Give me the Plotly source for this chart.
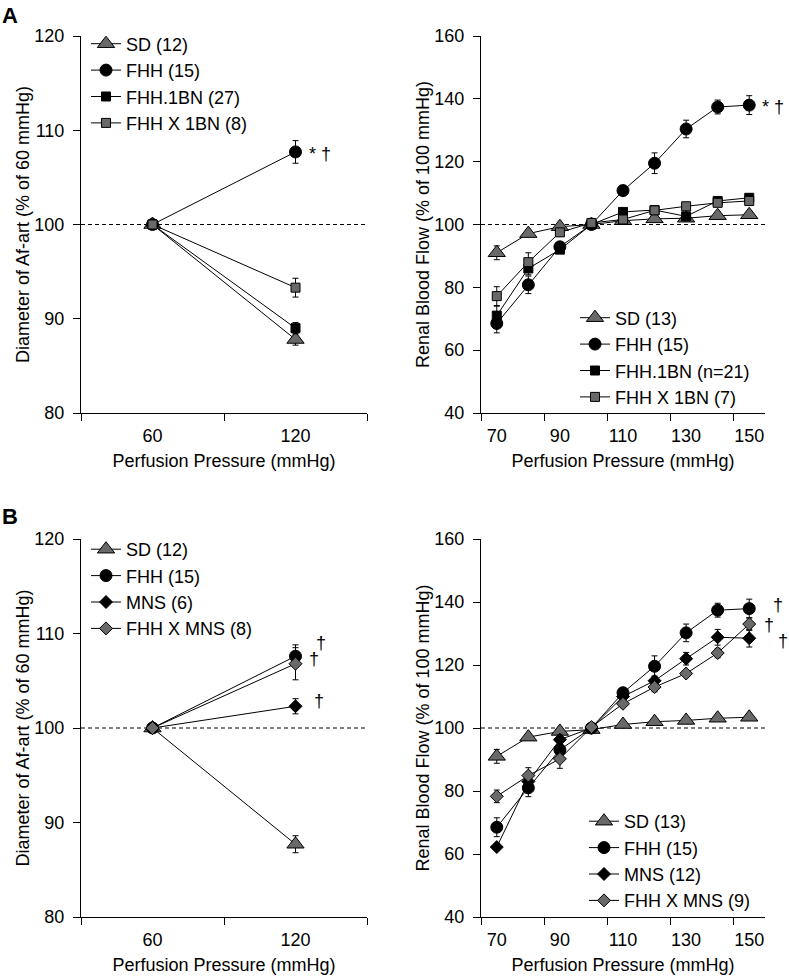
import plotly.graph_objects as go

W, H = 789, 976
FONT = "Liberation Sans, Arial, Helvetica, sans-serif"
GRAY = "#696969"

# ---------------- data ----------------
left_pressure = [60, 120]
left_ticks = [60, 120]
right_pressure = [70, 80, 90, 100, 110, 120, 130, 140, 150]
right_ticks = [70, 90, 110, 130, 150]

# Panel A, left (afferent arteriole diameter)
a_sd = [100, 87.8];   a_sd_err = [0, 0.6]
a_fhh = [100, 107.7]; a_fhh_err = [0, 1.2]
a_1bn = [100, 89.0];  a_1bn_err = [0, 0.6]
a_x1bn = [100, 93.3]; a_x1bn_err = [0, 1.0]

# Panel A, right (renal blood flow)
ar_sd = [91.0, 97.1, 99.3, 100.0, 101.2, 101.8, 102.0, 102.8, 103.1]
ar_sd_err = [2.2, 1.0, 0.8, 0.3, 0.5, 0.8, 0.8, 0.8, 0.8]
ar_fhh = [68.5, 80.8, 92.9, 100.0, 110.8, 119.5, 130.4, 137.4, 138.0]
ar_fhh_err = [3.0, 2.8, 1.2, 0.3, 1.6, 3.3, 2.8, 2.2, 3.0]
ar_1bn = [71.0, 86.0, 92.0, 100.0, 104.0, 104.6, 102.6, 107.5, 108.5]
ar_1bn_err = [3.0, 2.0, 1.0, 0.3, 1.0, 1.0, 1.2, 1.2, 1.2]
ar_x1bn = [77.2, 88.0, 97.5, 100.5, 101.6, 104.5, 105.8, 106.9, 107.5]
ar_x1bn_err = [3.0, 3.0, 1.2, 0.3, 1.0, 1.0, 1.0, 1.0, 1.0]

# Panel B, left
b_sd = [100, 87.7];   b_sd_err = [0, 0.9]
b_fhh = [100, 107.6]; b_fhh_err = [0, 1.2]
b_mns = [100, 102.3]; b_mns_err = [0, 0.8]
b_fxm = [100, 106.8]; b_fxm_err = [0, 1.7]

# Panel B, right
br_sd = [91.0, 97.1, 98.9, 99.5, 101.1, 102.0, 102.4, 103.1, 103.4]
br_sd_err = [2.2, 1.0, 0.8, 0.3, 0.5, 0.8, 0.8, 0.8, 0.8]
br_fhh = [68.5, 81.0, 93.1, 100.0, 111.2, 119.6, 130.2, 137.4, 137.9]
br_fhh_err = [3.0, 2.8, 1.2, 0.3, 1.6, 3.3, 2.8, 2.2, 3.0]
br_mns = [62.2, 83.0, 96.3, 100.0, 110.0, 115.0, 122.0, 128.8, 128.5]
br_mns_err = [1.0, 2.0, 1.5, 0.3, 1.0, 1.5, 2.0, 2.5, 2.8]
br_fxm = [78.3, 84.9, 90.2, 100.3, 107.7, 113.0, 117.3, 123.8, 133.0]
br_fxm_err = [2.0, 2.5, 3.0, 0.3, 1.0, 1.5, 1.0, 1.5, 2.0]

# ---------------- styles ----------------
STY = {
    "SD": dict(symbol="triangle-up", size=15, color=GRAY),
    "FHH": dict(symbol="circle", size=12, color="black"),
    "1BN": dict(symbol="square", size=9, color="black"),
    "X1BN": dict(symbol="square", size=9, color=GRAY),
    "MNS": dict(symbol="diamond", size=10, color="black"),
    "FXM": dict(symbol="diamond", size=10, color=GRAY),
}

fig = go.Figure()


def add(x, y, err, name, key, xa, ya, legend):
    s = STY[key]
    fig.add_trace(go.Scatter(
        x=x, y=y, name=name, mode="lines+markers",
        xaxis=xa, yaxis=ya, legend=legend,
        line=dict(color="black", width=1),
        marker=dict(symbol=s["symbol"], size=s["size"], color=s["color"],
                    line=dict(color="black", width=1)),
        error_y=dict(type="data", array=err, visible=True, color="black",
                     thickness=1, width=3),
    ))


add(left_pressure, a_sd, a_sd_err, "SD (12)", "SD", "x", "y", "legend")
add(left_pressure, a_fhh, a_fhh_err, "FHH (15)", "FHH", "x", "y", "legend")
add(left_pressure, a_1bn, a_1bn_err, "FHH.1BN (27)", "1BN", "x", "y", "legend")
add(left_pressure, a_x1bn, a_x1bn_err, "FHH X 1BN (8)", "X1BN", "x", "y", "legend")

add(right_pressure, ar_sd, ar_sd_err, "SD (13)", "SD", "x2", "y2", "legend2")
add(right_pressure, ar_fhh, ar_fhh_err, "FHH (15)", "FHH", "x2", "y2", "legend2")
add(right_pressure, ar_1bn, ar_1bn_err, "FHH.1BN (n=21)", "1BN", "x2", "y2", "legend2")
add(right_pressure, ar_x1bn, ar_x1bn_err, "FHH X 1BN (7)", "X1BN", "x2", "y2", "legend2")

add(left_pressure, b_sd, b_sd_err, "SD (12)", "SD", "x3", "y3", "legend3")
add(left_pressure, b_fhh, b_fhh_err, "FHH (15)", "FHH", "x3", "y3", "legend3")
add(left_pressure, b_mns, b_mns_err, "MNS (6)", "MNS", "x3", "y3", "legend3")
add(left_pressure, b_fxm, b_fxm_err, "FHH X MNS (8)", "FXM", "x3", "y3", "legend3")

add(right_pressure, br_sd, br_sd_err, "SD (13)", "SD", "x4", "y4", "legend4")
add(right_pressure, br_fhh, br_fhh_err, "FHH (15)", "FHH", "x4", "y4", "legend4")
add(right_pressure, br_mns, br_mns_err, "MNS (12)", "MNS", "x4", "y4", "legend4")
add(right_pressure, br_fxm, br_fxm_err, "FHH X MNS (9)", "FXM", "x4", "y4", "legend4")

# ---------------- layout ----------------
def px_x(p):
    return p / W


def px_y(p):
    return 1 - p / H


XL = [px_x(81), px_x(367)]
XR = [px_x(481), px_x(765)]
YA = [px_y(413), px_y(36)]
YB = [px_y(917), px_y(539)]

FS = 18
tickfont = dict(family=FONT, size=FS, color="black")
common_x = dict(showline=True, linecolor="black", linewidth=1, ticks="",
                showgrid=False, zeroline=False, tickfont=tickfont, automargin=False,
                ticklabelstandoff=6,
                title=dict(text="Perfusion Pressure (mmHg)", font=tickfont, standoff=9))
common_y = dict(showline=True, linecolor="black", linewidth=1, ticks="outside",
                ticklen=7, tickcolor="black", showgrid=False, zeroline=False,
                tickfont=tickfont, ticklabelstandoff=5, automargin=False)


def xleft(anchor, domain):
    d = dict(common_x)
    d.update(domain=domain, anchor=anchor, range=[30, 150], tickmode="array",
             tickvals=left_ticks,
             minor=dict(tickvals=[30, 90, 150], ticks="outside", ticklen=7,
                        tickcolor="black", showgrid=False))
    return d


def xright(anchor, domain):
    d = dict(common_x)
    d.update(domain=domain, anchor=anchor, range=[65, 155], tickmode="array",
             tickvals=right_ticks,
             minor=dict(tickvals=[65, 85, 105, 125, 145], ticks="outside", ticklen=7,
                        tickcolor="black", showgrid=False))
    return d


def yleft(anchor, domain):
    d = dict(common_y)
    d.update(domain=domain, anchor=anchor, range=[80, 120], tickmode="linear",
             tick0=80, dtick=10,
             title=dict(text="Diameter of Af-art (% of 60 mmHg)", font=tickfont, standoff=0))
    return d


def yright(anchor, domain):
    d = dict(common_y)
    d.update(domain=domain, anchor=anchor, range=[40, 160], tickmode="linear",
             tick0=40, dtick=20,
             title=dict(text="Renal Blood Flow (% of 100 mmHg)", font=tickfont, standoff=0))
    return d


legfont = dict(family=FONT, size=FS, color="black")


def leg(x, y):
    return dict(x=x, y=y, xanchor="left", yanchor="top", bgcolor="rgba(0,0,0,0)",
                font=legfont, itemwidth=30, borderwidth=0, tracegroupgap=0)


fig.update_layout(
    width=W, height=H,
    margin=dict(l=0, r=0, t=0, b=0),
    paper_bgcolor="white", plot_bgcolor="white",
    font=dict(family=FONT, size=FS, color="black"),
    xaxis=xleft("y", XL), yaxis=yleft("x", YA),
    xaxis2=xright("y2", XR), yaxis2=yright("x2", YA),
    xaxis3=xleft("y3", XL), yaxis3=yleft("x3", YB),
    xaxis4=xright("y4", XR), yaxis4=yright("x4", YB),
    legend=leg(px_x(86), px_y(25.5)),
    legend2=leg(px_x(575), px_y(299.5)),
    legend3=leg(px_x(86), px_y(531)),
    legend4=leg(px_x(584), px_y(803)),
    showlegend=True,
)

# dashed reference lines at 100 %
for xa, ya in [("x", "y"), ("x2", "y2"), ("x3", "y3"), ("x4", "y4")]:
    fig.add_shape(type="line", xref=f"{xa} domain", yref=ya, x0=0, x1=1, y0=100, y1=100,
                  line=dict(color="black", width=1, dash="4px,3px"), layer="below")

ann_font = dict(family=FONT, size=FS, color="black")
anns = [
    dict(x=left_pressure[-1], y=a_fhh[-1], xref="x", yref="y", text="* †", xshift=12, yshift=-2),
    dict(x=right_pressure[-1], y=ar_fhh[-1], xref="x2", yref="y2", text="* †", xshift=12, yshift=-2),
    dict(x=left_pressure[-1], y=b_fhh[-1], xref="x3", yref="y3", text="†", xshift=19, yshift=13),
    dict(x=left_pressure[-1], y=b_fxm[-1], xref="x3", yref="y3", text="†", xshift=12, yshift=5),
    dict(x=left_pressure[-1], y=b_mns[-1], xref="x3", yref="y3", text="†", xshift=17, yshift=5),
    dict(x=right_pressure[-1], y=br_fhh[-1], xref="x4", yref="y4", text="†", xshift=23, yshift=4),
    dict(x=right_pressure[-1], y=br_fxm[-1], xref="x4", yref="y4", text="†", xshift=14, yshift=-1),
    dict(x=right_pressure[-1], y=br_mns[-1], xref="x4", yref="y4", text="†", xshift=28, yshift=-3),
]
for a in anns:
    fig.add_annotation(showarrow=False, xanchor="left", yanchor="middle", font=ann_font,
                       borderpad=0, **a)

for txt, yy in [("A", 15), ("B", 516)]:
    fig.add_annotation(text=f"<b>{txt}</b>", x=0, y=px_y(yy), xref="paper", yref="paper",
                       xanchor="left", yanchor="middle", showarrow=False,
                       font=dict(family=FONT, size=22, color="black"))

fig.write_html(
    "out.html",
    config={"displayModeBar": False},
    post_script="document.body.style.margin='0';document.body.style.padding='0';"
                "document.body.style.overflow='hidden';",
)
